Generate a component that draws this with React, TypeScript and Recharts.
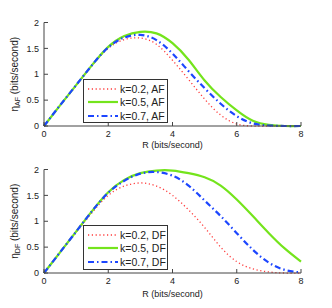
import {
  LineChart,
  Line,
  XAxis,
  YAxis,
  Legend,
} from "recharts";

// R (bits/second) sample points
const rValues = [0, 0.5, 1, 1.5, 2, 2.5, 3, 3.5, 4, 4.5, 5, 5.5, 6, 6.5, 7, 7.5, 8];

// AF panel
const afK02 = [0, 0.4, 0.78, 1.17, 1.5, 1.67, 1.7, 1.58, 1.27, 0.9, 0.52, 0.21, 0.04, 0, 0, 0, 0];
const afK05 = [0, 0.4, 0.79, 1.18, 1.53, 1.74, 1.82, 1.79, 1.6, 1.28, 0.88, 0.56, 0.3, 0.1, 0.02, 0, 0];
const afK07 = [0, 0.4, 0.79, 1.18, 1.52, 1.71, 1.76, 1.66, 1.4, 1.06, 0.73, 0.43, 0.19, 0.05, 0.01, 0, 0];

// DF panel
const dfK02 = [0, 0.4, 0.78, 1.17, 1.5, 1.68, 1.74, 1.68, 1.5, 1.22, 0.88, 0.5, 0.22, 0.08, 0.02, 0, 0];
const dfK05 = [0, 0.4, 0.8, 1.2, 1.56, 1.8, 1.93, 1.98, 1.98, 1.93, 1.85, 1.69, 1.42, 1.1, 0.77, 0.47, 0.22];
const dfK07 = [0, 0.4, 0.8, 1.2, 1.55, 1.78, 1.92, 1.95, 1.88, 1.69, 1.4, 1.1, 0.77, 0.45, 0.2, 0.06, 0.01];

const xTicks = [0, 2, 4, 6, 8];
const yTicks = [0, 0.5, 1, 1.5, 2];
const kLabels = ["k=0.2", "k=0.5", "k=0.7"];

const AXIS_COLOR = "#444";
const TEXT_COLOR = "#222";

const SERIES = [
  { key: "k02", color: "#ff3b3b", width: 1.3, dash: "1.2 2.6" },
  { key: "k05", color: "#74e41c", width: 2.2, dash: undefined },
  { key: "k07", color: "#1c46ff", width: 2.2, dash: "6 3 1.5 3" },
];

function buildRows(a: number[], b: number[], c: number[]) {
  return rValues.map((r, i) => ({ r, k02: a[i], k05: b[i], k07: c[i] }));
}

function YLabel({ viewBox, sub }: any) {
  const cx = (viewBox?.x ?? 0) + 14;
  const cy = (viewBox?.y ?? 0) + (viewBox?.height ?? 0) / 2;
  return (
    <text
      x={cx}
      y={cy}
      transform={`rotate(-90, ${cx}, ${cy})`}
      textAnchor="middle"
      dominantBaseline="central"
      fill={TEXT_COLOR}
      fontSize={10}
    >
      η
      <tspan dy={3} fontSize={7}>{sub}</tspan>
      <tspan dy={-3} fontSize={10}> (bits/second)</tspan>
    </text>
  );
}

function XLabel({ viewBox, gap }: any) {
  const cx = (viewBox?.x ?? 0) + (viewBox?.width ?? 0) / 2;
  const cy = (viewBox?.y ?? 0) + gap;
  return (
    <text x={cx} y={cy} textAnchor="middle" dominantBaseline="central" fill={TEXT_COLOR} fontSize={9}>
      R (bits/second)
    </text>
  );
}

function LegendBox({ suffix }: { suffix: string }) {
  return (
    <div
      style={{
        border: "1px solid #333",
        background: "#fff",
        padding: "2px 0 0 4px",
        boxSizing: "border-box",
        height: "100%",
      }}
    >
      {SERIES.map((s, i) => (
        <div key={s.key} style={{ display: "flex", alignItems: "center", height: 13.5 }}>
          <svg width={30} height={6} style={{ marginRight: 2 }}>
            <line
              x1={0}
              y1={3}
              x2={30}
              y2={3}
              stroke={s.color}
              strokeWidth={s.width}
              strokeDasharray={s.dash}
            />
          </svg>
          <span style={{ fontSize: 10.5, color: TEXT_COLOR, whiteSpace: "nowrap" }}>
            {kLabels[i]}, {suffix}
          </span>
        </div>
      ))}
    </div>
  );
}

interface PanelProps {
  rows: ReturnType<typeof buildRows>;
  suffix: string;
  top: number;
  bottom: number;
  labelGap: number;
  legendTop: number;
  legendHeight: number;
}

function Panel({ rows, suffix, top, bottom, labelGap, legendTop, legendHeight }: PanelProps) {
  return (
    <LineChart
      width={332}
      height={154}
      data={rows}
      margin={{ top, right: 31, left: 0, bottom: 0 }}
    >
      <XAxis
        dataKey="r"
        type="number"
        domain={[0, 8]}
        ticks={xTicks}
        height={bottom}
        stroke={AXIS_COLOR}
        tickSize={-4}
        tickMargin={9}
        tick={{ fontSize: 9, fill: TEXT_COLOR }}
        label={<XLabel gap={labelGap} />}
      />
      <XAxis
        xAxisId="top"
        orientation="top"
        type="number"
        domain={[0, 8]}
        ticks={xTicks}
        height={0}
        stroke={AXIS_COLOR}
        tickSize={-4}
        tick={() => <g />}
      />
      <YAxis
        type="number"
        domain={[0, 2]}
        ticks={yTicks}
        width={44}
        stroke={AXIS_COLOR}
        tickSize={-4}
        tickMargin={9}
        tick={{ fontSize: 9, fill: TEXT_COLOR }}
        label={<YLabel sub={suffix} />}
      />
      <YAxis
        yAxisId="right"
        orientation="right"
        type="number"
        domain={[0, 2]}
        ticks={yTicks}
        width={0}
        stroke={AXIS_COLOR}
        tickSize={-4}
        tick={() => <g />}
      />
      {SERIES.map((s) => (
        <Line
          key={s.key}
          type="natural"
          dataKey={s.key}
          stroke={s.color}
          strokeWidth={s.width}
          strokeDasharray={s.dash}
          dot={false}
          isAnimationActive={false}
        />
      ))}
      <Legend
        layout="horizontal"
        verticalAlign="middle"
        content={() => <LegendBox suffix={suffix} />}
        wrapperStyle={{ left: 83, top: legendTop, width: 85, height: legendHeight }}
      />
    </LineChart>
  );
}

export default function App() {
  return (
    <div
      style={{
        position: "absolute",
        left: 0,
        top: 0,
        width: 332,
        height: 308,
        background: "#fff",
        fontFamily: "'Liberation Sans', Arial, sans-serif",
      }}
    >
      <Panel
        rows={buildRows(afK02, afK05, afK07)}
        suffix="AF"
        top={22.5}
        bottom={28}
        labelGap={19}
        legendTop={79}
        legendHeight={44}
      />
      <Panel
        rows={buildRows(dfK02, dfK05, dfK07)}
        suffix="DF"
        top={15.5}
        bottom={35}
        labelGap={21}
        legendTop={71}
        legendHeight={45}
      />
    </div>
  );
}
